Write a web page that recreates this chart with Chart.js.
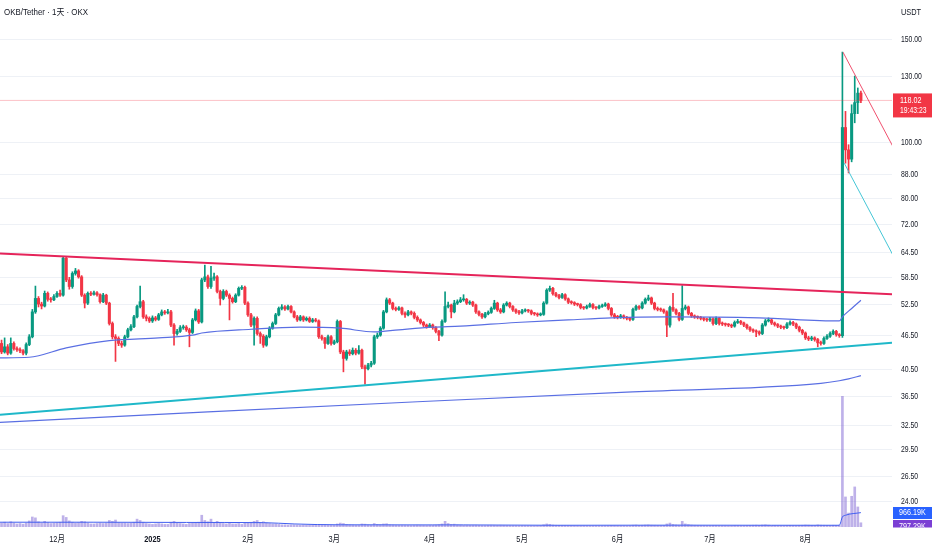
<!DOCTYPE html>
<html><head><meta charset="utf-8">
<script src="https://cdn.jsdelivr.net/npm/chart.js@4.4.1/dist/chart.umd.min.js"></script>
<style>html,body{margin:0;padding:0;background:#fff;overflow:hidden}#wrap{width:932px;height:550px;position:relative}</style>
</head><body><div id="wrap"><canvas id="c" width="932" height="550"></canvas></div>
<script>
const symbolTitle = 'OKB/Tether · 1天 · OKX';
const currencyLabel = 'USDT';
const monthTickIdx = [18,49,80,108,139,169,200,230,261];
const monthTickLabels = ['12月','2025','2月','3月','4月','5月','6月','7月','8月'];
const priceTicks = [150,130,100,88,80,72,64.5,58.5,52.5,46.5,40.5,36.5,32.5,29.5,26.5,24];

const opens = [
45.0,43.5,44.4,43.3,45.0,44.1,43.9,43.7,43.3,44.8,
46.2,51.0,53.8,52.6,52.2,54.9,53.6,53.5,54.2,54.9,
54.5,63.1,57.9,56.4,59.4,60.0,58.6,54.5,52.8,54.9,
54.7,55.0,54.6,53.1,54.5,52.8,48.7,46.2,45.9,45.0,
44.7,46.2,47.5,48.1,50.0,52.1,53.1,50.0,49.7,49.2,
49.8,49.5,50.4,51.0,50.8,51.0,48.4,46.8,47.2,47.9,
48.0,47.5,47.0,49.4,51.2,49.0,57.9,58.6,56.4,58.3,
58.6,55.3,53.8,55.3,54.5,53.8,53.1,54.5,56.0,56.2,
52.8,50.4,48.4,49.7,46.8,46.3,44.7,46.2,47.8,48.7,
50.4,51.7,52.0,51.6,52.1,51.0,50.0,49.4,50.0,49.4,
49.7,49.1,49.4,49.2,46.2,45.9,45.0,46.2,45.0,45.3,
49.1,43.5,42.4,43.5,43.2,43.8,43.3,43.8,41.0,40.7,
41.3,41.6,46.2,46.5,47.8,51.0,53.5,52.8,51.7,51.5,
51.8,50.7,50.4,51.0,50.7,49.9,49.4,48.9,48.4,48.1,
48.4,47.9,47.2,46.5,49.1,52.1,52.4,51.0,52.8,53.1,
53.5,53.6,52.8,53.0,52.4,51.0,50.5,50.0,50.6,50.9,
51.7,52.8,51.4,51.0,52.4,52.8,52.1,51.4,51.0,50.8,
51.2,51.3,51.2,50.7,50.6,50.4,50.5,52.8,55.6,56.0,
54.8,54.4,54.0,54.6,53.7,53.0,52.9,52.6,52.5,51.9,
51.8,52.1,52.5,51.9,51.8,52.1,52.3,52.6,51.7,50.4,
50.0,49.9,50.2,49.9,49.7,49.5,51.5,52.1,51.8,52.8,
53.6,53.9,52.8,51.7,51.5,51.4,51.0,48.4,51.9,51.4,
50.7,49.5,51.7,52.0,50.7,50.2,50.0,49.9,49.7,49.5,
49.4,49.6,48.7,49.7,48.7,48.6,48.5,48.4,48.2,48.9,
49.1,48.8,48.4,47.9,47.5,47.3,47.1,46.8,48.4,49.2,
49.4,48.8,48.5,48.2,48.0,47.9,48.6,48.9,48.6,48.0,
47.4,46.9,46.0,45.8,46.0,45.7,45.1,45.0,45.9,46.3,
46.8,47.2,46.6,46.4,106,97,93.5,112,117,121.5];

const closes = [
43.5,44.4,43.3,45.0,44.1,43.9,43.7,43.3,44.8,46.2,
51.0,53.8,52.6,52.2,54.9,53.6,53.5,54.2,54.9,54.5,
63.1,57.9,56.4,59.4,60.0,58.6,54.5,52.8,54.9,54.7,
55.0,54.6,53.1,54.5,52.8,48.7,46.2,45.9,45.0,44.7,
46.2,47.5,48.1,50.0,52.1,53.1,50.0,49.7,49.2,49.8,
49.5,50.4,51.0,50.8,51.0,48.4,46.8,47.2,47.9,48.0,
47.5,47.0,49.4,51.2,49.0,57.9,58.6,56.4,58.3,58.6,
55.3,53.8,55.3,54.5,53.8,53.1,54.5,56.0,56.2,52.8,
50.4,48.4,49.7,46.8,46.3,44.7,46.2,47.8,48.7,50.4,
51.7,52.0,51.6,52.1,51.0,50.0,49.4,50.0,49.4,49.7,
49.1,49.4,49.2,46.2,45.9,45.0,46.2,45.0,45.3,49.1,
43.5,42.4,43.5,43.2,43.8,43.3,43.8,41.0,40.7,41.3,
41.6,46.2,46.5,47.8,51.0,53.5,52.8,51.7,51.5,51.8,
50.7,50.4,51.0,50.7,49.9,49.4,48.9,48.4,48.1,48.4,
47.9,47.2,46.5,49.1,52.1,52.4,51.0,52.8,53.1,53.5,
53.6,52.8,53.0,52.4,51.0,50.5,50.0,50.6,50.9,51.7,
52.8,51.4,51.0,52.4,52.8,52.1,51.4,51.0,50.8,51.2,
51.3,51.2,50.7,50.6,50.4,50.5,52.8,55.6,56.0,54.8,
54.4,54.0,54.6,53.7,53.0,52.9,52.6,52.5,51.9,51.8,
52.1,52.5,51.9,51.8,52.1,52.3,52.6,51.7,50.4,50.0,
49.9,50.2,49.9,49.7,49.5,51.5,52.1,51.8,52.8,53.6,
53.9,52.8,51.7,51.5,51.4,51.0,48.4,51.9,51.4,50.7,
49.5,51.7,52.0,50.7,50.2,50.0,49.9,49.7,49.5,49.4,
49.6,48.7,49.7,48.7,48.6,48.5,48.4,48.2,48.9,49.1,
48.8,48.4,47.9,47.5,47.3,47.1,46.8,48.4,49.2,49.4,
48.8,48.5,48.2,48.0,47.9,48.6,48.9,48.6,48.0,47.4,
46.9,46.0,45.8,46.0,45.7,45.1,45.0,45.9,46.3,46.8,
47.2,46.6,46.4,106,97,93.5,112,117,121.5,118.02];

const highs = [
45.6,46.0,44.8,46.0,45.3,44.4,44.2,43.9,45.1,46.6,
51.5,56.5,54.2,53.0,55.4,55.2,54.0,54.6,55.3,55.6,
63.6,63.3,58.5,59.8,60.6,60.3,58.9,54.8,55.2,55.3,
55.4,55.3,54.8,54.9,54.7,53.0,49.0,46.6,46.2,45.4,
46.5,47.8,48.5,50.3,52.4,56.5,53.4,50.4,50.0,50.2,
50.1,50.7,51.4,51.3,51.5,51.3,48.7,47.6,48.3,48.4,
48.3,47.8,49.7,51.6,51.5,58.3,61.4,59.0,61.1,59.5,
58.9,55.6,55.7,55.6,54.8,54.1,54.8,56.3,56.6,56.5,
53.1,50.7,50.0,50.0,47.1,46.6,46.5,48.1,49.0,50.7,
52.0,52.5,52.3,52.4,52.3,51.2,50.3,50.3,50.2,50.0,
50.0,49.7,49.7,49.4,46.5,46.1,46.5,46.4,45.6,49.4,
49.3,43.8,43.8,43.9,44.2,44.1,44.6,44.0,41.3,41.6,
41.9,46.5,46.9,48.1,51.3,53.9,53.8,53.0,52.0,52.1,
52.0,51.0,51.3,51.2,51.0,50.2,49.6,49.1,48.6,48.7,
48.6,48.1,47.4,49.4,55.2,53.0,52.6,53.4,53.5,54.0,
54.6,53.8,53.3,53.2,52.6,51.2,50.7,50.9,51.2,52.0,
53.4,53.0,51.7,52.7,53.1,53.0,52.3,51.6,51.3,51.5,
51.6,51.5,51.4,50.9,50.8,50.8,53.1,55.9,56.5,56.2,
55.1,54.7,54.9,54.8,53.9,53.3,53.1,52.8,52.7,52.1,
52.4,52.8,52.7,52.1,52.4,52.6,52.9,52.8,51.9,50.7,
50.3,50.5,50.4,50.1,49.9,51.8,52.4,52.3,53.1,53.9,
54.5,54.1,53.0,52.0,51.8,51.6,51.2,52.2,54.9,51.6,
50.9,56.6,52.4,52.2,50.9,50.4,50.2,50.1,49.9,49.7,
49.9,49.8,50.0,49.9,49.0,48.8,48.7,48.6,49.2,49.5,
49.3,49.0,48.6,48.1,47.7,47.5,47.3,48.7,49.5,49.8,
49.6,49.0,48.7,48.4,48.2,48.9,49.2,49.1,48.8,48.2,
47.6,47.1,46.3,46.3,46.2,45.9,45.4,46.2,46.6,47.1,
47.5,47.4,46.8,143,113,99,116,130,124,122.5];

const lows = [
43.2,43.3,43.0,43.1,43.8,43.6,43.4,43.0,43.0,44.6,
46.0,50.7,52.0,51.6,52.0,53.2,53.0,53.3,54.0,54.2,
54.3,57.5,55.8,56.0,59.0,58.3,54.2,51.8,52.5,54.4,
54.5,54.3,52.8,52.9,52.5,48.4,45.8,41.9,44.6,44.3,
44.5,46.0,47.3,47.9,49.8,51.8,49.7,49.2,48.9,48.9,
49.2,49.3,50.2,50.5,50.6,48.1,44.7,46.5,47.0,47.6,
47.2,44.4,46.8,49.2,48.7,48.8,57.5,56.0,56.0,57.8,
55.0,52.4,53.5,54.2,49.4,52.8,52.9,54.3,55.7,52.5,
50.1,48.1,44.7,46.5,45.0,44.3,44.5,46.0,47.6,48.5,
50.2,51.4,51.3,51.4,50.8,49.8,49.1,49.2,49.1,49.2,
48.9,48.9,49.0,45.9,45.6,44.1,44.8,44.7,44.8,45.1,
43.2,40.2,42.1,42.9,43.0,43.0,43.1,40.7,38.3,40.5,
41.0,41.4,45.9,46.3,47.6,50.8,52.5,51.4,51.2,51.3,
50.4,49.9,50.2,50.4,49.6,49.1,48.6,48.1,47.8,47.9,
47.6,46.9,45.5,46.3,48.9,51.8,49.8,50.8,52.5,52.9,
53.2,52.5,52.5,52.1,50.7,50.2,49.7,49.8,50.4,50.7,
51.5,51.1,50.7,50.8,52.2,51.8,51.1,50.7,50.5,50.6,
51.0,50.9,50.4,50.3,50.1,50.2,50.3,52.6,55.3,54.5,
54.1,53.7,53.8,53.4,52.7,52.6,52.3,52.2,51.6,51.5,
51.6,51.9,51.6,51.5,51.6,51.9,52.1,51.4,50.1,49.7,
49.6,49.7,49.6,49.4,49.2,49.3,51.3,51.5,51.6,52.6,
53.3,52.5,51.4,51.2,51.1,50.7,46.2,48.0,51.1,50.4,
49.2,49.3,51.4,50.4,49.9,49.7,49.6,49.4,49.2,49.1,
49.1,48.4,48.5,48.4,48.3,48.2,48.1,47.9,48.0,48.7,
48.5,48.1,47.6,47.2,47.0,46.2,46.5,46.6,48.2,49.0,
48.5,48.2,47.9,47.7,47.6,47.7,48.4,48.3,47.7,47.1,
46.6,45.7,45.5,45.5,45.4,44.4,44.7,44.8,45.7,46.1,
46.6,46.3,46.1,46.1,92,88.5,92.5,108,112,117];

// volume in thousands (K)
const volumes = [
900,1100,800,1200,900,700,800,650,900,1400,
2300,2100,1200,900,1300,1000,800,900,1000,1100,
2600,2200,1400,1100,900,1000,1300,1200,900,700,
700,800,900,800,900,1500,1300,1600,1000,900,
900,800,900,1100,1800,1500,1100,800,700,600,
700,800,700,600,600,1100,1300,900,800,700,
600,800,900,1000,1100,2700,1500,1200,1800,1000,
1300,1000,800,700,900,700,700,800,600,900,
1000,1100,1300,1500,1000,1200,900,800,700,700,
600,500,500,450,500,500,450,400,450,400,
400,380,400,600,500,550,450,420,400,700,
900,800,600,500,450,400,420,700,650,500,
450,800,600,550,700,750,500,450,420,400,
420,400,380,360,400,420,400,380,360,400,
420,450,550,700,1300,800,600,650,500,450,
420,400,380,400,420,380,360,350,380,420,
400,380,400,390,360,350,340,330,320,340,
330,320,310,300,320,330,500,700,600,450,
400,380,360,350,340,330,320,310,300,310,
300,290,300,310,300,290,300,320,380,360,
340,320,310,300,320,420,450,380,400,450,
480,420,400,380,360,380,700,900,600,500,
450,1300,700,550,450,400,380,360,350,340,
350,380,360,340,330,320,310,330,380,360,
340,330,350,380,400,420,380,450,500,420,
380,350,330,320,310,360,380,350,330,360,
400,450,420,380,360,480,420,400,380,360,
400,380,420,30000,6900,3200,7050,9200,4600,966.19];

// moving averages (index, value)
const maSlowIdx = [-0.5,9,21,35,51,62,65,81,97,110,121,129,140,149,167,184,198,216,246,272,273,276,279];
const maSlowVal = [42.5,42.6,44.2,45.5,46.0,46.5,46.9,47.6,48.0,47.8,47.1,47.5,48.0,48.2,48.9,49.4,49.8,50.0,49.8,49.2,50.0,51.7,53.4];
const maLongIdx = [-0.5,67,135,203,266,272,275,279];
const maLongVal = [32.9,34.3,35.7,37.1,38.4,38.8,39.1,39.6];
const volMaIdx = [-0.5,30,60,85,95,110,140,150,180,220,250,272,273,274,279];
const volMaVal = [1100,1100,1050,1000,700,500,480,480,400,420,400,400,2300,2700,3300];

// drawn trendlines (index, price)
const resistIdx = [-0.5,289.1], resistVal = [64.3,54.7];
const supportIdx = [-0.5,289.1], supportVal = [33.9,45.1];
const spikeDownIdx = [273.2,289.3], spikeDownVal = [142.9,98.5];
const spikeLowIdx = [273.6,289.4], spikeLowVal = [92.0,63.9];

const lastPrice = 118.02, lastTimer = '19:43:23';
const lastVolLabel = '966.19K', volMaLabel = '797.29K';

const FONT = "'Liberation Sans','Noto Sans CJK SC',sans-serif";
const UP = '#089981', DOWN = '#f23645';
const candleColors = opens.map((o,i)=> closes[i] >= o ? UP : DOWN);
const pts = (xs, ys) => xs.map((x,i)=>({x, y: ys[i]}));

function condText(ctx, text, x, y, align, sx){
  ctx.save(); ctx.translate(x, y); ctx.scale(sx, 1);
  ctx.textAlign = align; ctx.fillText(text, 0, 0); ctx.restore();
}

const overlay = {
  id: 'overlay',
  afterDraw(chart){
    const {ctx, chartArea, scales} = chart;
    const ax = chartArea.right + 9;
    ctx.save();
    ctx.textBaseline = 'middle';
    ctx.fillStyle = '#131722';
    ctx.font = `9px ${FONT}`;
    condText(ctx, symbolTitle, 4, 13, 'left', 0.88);
    condText(ctx, currencyLabel, ax, 13, 'left', 0.82);
    priceTicks.forEach(v => {
      const y = scales.y.getPixelForValue(v);
      condText(ctx, v.toFixed(2), ax, y, 'left', 0.76);
    });
    monthTickIdx.forEach((v, k) => {
      const x = scales.x.getPixelForValue(v);
      ctx.font = (monthTickLabels[k] === '2025' ? 'bold ' : '') + `9px ${FONT}`;
      condText(ctx, monthTickLabels[k], x, chartArea.bottom + 13, 'center', 0.82);
    });
    const py = scales.y.getPixelForValue(lastPrice);
    ctx.fillStyle = DOWN;
    ctx.fillRect(chartArea.right + 1, py - 7, 40, 24);
    ctx.fillStyle = '#ffffff';
    ctx.font = `9px ${FONT}`;
    condText(ctx, lastPrice.toFixed(2), ax - 1, py + 0.5, 'left', 0.8);
    condText(ctx, lastTimer, ax - 1, py + 10.5, 'left', 0.76);
    ctx.beginPath();
    ctx.rect(chartArea.right, 0, 40, chartArea.bottom + 0.5);
    ctx.clip();
    ctx.fillStyle = '#2962ff';
    ctx.fillRect(chartArea.right + 1, chartArea.bottom - 20, 40, 12);
    ctx.fillStyle = '#7b3fd4';
    ctx.fillRect(chartArea.right + 1, chartArea.bottom - 7, 40, 13);
    ctx.fillStyle = '#ffffff';
    condText(ctx, lastVolLabel, ax - 2, chartArea.bottom - 14, 'left', 0.8);
    condText(ctx, volMaLabel, ax - 2, chartArea.bottom - 0.5, 'left', 0.8);
    ctx.restore();
  }
};

new Chart(document.getElementById('c'), {
  type: 'bar',
  data: {
    datasets: [
      {type:'line', label:'resist', data: pts(resistIdx, resistVal), borderColor:'#e5245a', borderWidth:2, pointRadius:0, order:0},
      {type:'line', label:'support', data: pts(supportIdx, supportVal), borderColor:'#1fb8c9', borderWidth:2, pointRadius:0, order:0},
      {type:'line', label:'spikeDown', data: pts(spikeDownIdx, spikeDownVal), borderColor:'#f0506e', borderWidth:1, pointRadius:0, order:0},
      {type:'line', label:'spikeLow', data: pts(spikeLowIdx, spikeLowVal), borderColor:'#45c6d6', borderWidth:1, pointRadius:0, order:0},
      {type:'line', label:'price', data: pts([-0.5,289.1],[lastPrice,lastPrice]), borderColor:'rgba(242,54,69,0.3)', borderWidth:1, pointRadius:0, order:1},
      {type:'line', label:'maSlow', data: pts(maSlowIdx, maSlowVal), borderColor:'#5a6fe3', borderWidth:1.2, pointRadius:0, cubicInterpolationMode:'monotone', order:1},
      {type:'line', label:'maLong', data: pts(maLongIdx, maLongVal), borderColor:'#5a6fe3', borderWidth:1.2, pointRadius:0, cubicInterpolationMode:'monotone', order:1},
      {type:'line', label:'volMa', yAxisID:'yv', data: pts(volMaIdx, volMaVal), borderColor:'#3f5ef0', borderWidth:1, pointRadius:0, cubicInterpolationMode:'monotone', order:1},
      {type:'bar', label:'body', data: opens.map((o,i)=>({x:i, y:[o, closes[i]]})), backgroundColor: candleColors, barThickness:2.4, minBarLength:1, grouped:false, order:2},
      {type:'bar', label:'wick', data: highs.map((h,i)=>({x:i, y:[lows[i], h]})), backgroundColor: candleColors, barThickness:1, grouped:false, order:3},
      {type:'bar', label:'volume', yAxisID:'yv', data: volumes.map((v,i)=>({x:i, y:v})), backgroundColor:'rgba(126,100,212,0.5)', barThickness:2, grouped:false, order:10}
    ]
  },
  options: {
    responsive: false,
    animation: false,
    events: [],
    layout: {padding: 0},
    plugins: {legend:{display:false}, tooltip:{enabled:false}},
    scales: {
      x: {
        type:'linear', min:-0.5, max:289.1, offset:false,
        afterBuildTicks: s => { s.ticks = monthTickIdx.map(v=>({value:v})); },
        afterFit: s => { s.height = 23; s.paddingLeft = 0; s.paddingRight = 0; },
        ticks: {display:false},
        grid: {display:false, drawTicks:false, offset:false},
        border: {display:false}
      },
      y: {
        type:'logarithmic', position:'right', min:21.72, max:175.8,
        afterBuildTicks: s => { s.ticks = priceTicks.map(v=>({value:v})); },
        afterFit: s => { s.width = 40; s.paddingTop = 0; s.paddingBottom = 0; },
        ticks: {display:false},
        grid: {color:'#eef1f6', drawTicks:false},
        border: {display:false}
      },
      yv: {type:'linear', display:false, min:0, max:121000}
    }
  },
  plugins: [overlay]
});
</script>
</body></html>
